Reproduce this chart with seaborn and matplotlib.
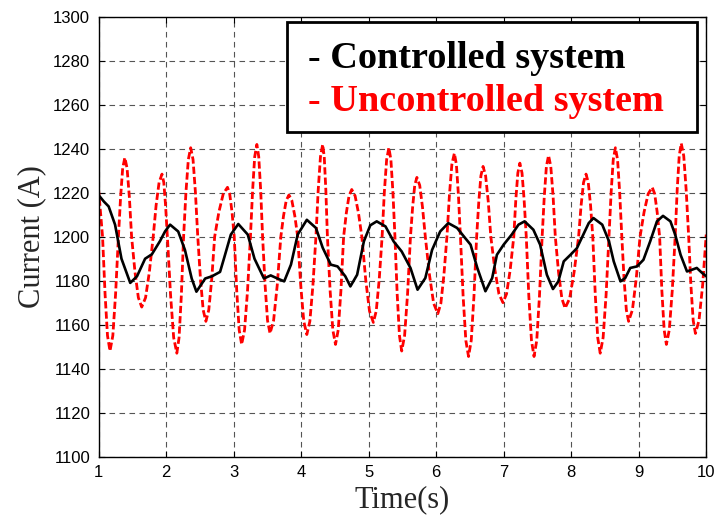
import matplotlib
matplotlib.use("Agg")
import matplotlib.pyplot as plt
from matplotlib.lines import Line2D
from matplotlib.patches import Rectangle
from matplotlib.font_manager import FontProperties
import pandas as pd
import seaborn as sns

# Uncontrolled system: time (s) and current (A)
t_unc = [1.00, 1.06,
         1.097, 1.133, 1.17, 1.212, 1.253, 1.295,
         1.327, 1.358, 1.39, 1.423, 1.457, 1.49,
         1.54, 1.59, 1.64, 1.697, 1.753, 1.81,
         1.853, 1.897, 1.94, 1.967, 1.993, 2.02,
         2.067, 2.113, 2.16, 2.193, 2.227, 2.26,
         2.295, 2.33, 2.365, 2.40, 2.435, 2.47,
         2.51, 2.55, 2.59, 2.633, 2.677, 2.72,
         2.783, 2.847, 2.91, 2.943, 2.977, 3.01,
         3.047, 3.083, 3.12, 3.163, 3.207, 3.25,
         3.282, 3.313, 3.345, 3.373, 3.402, 3.43,
         3.467, 3.503, 3.54, 3.593, 3.647, 3.70,
         3.74, 3.78, 3.82, 3.863, 3.907, 3.95,
         3.995, 4.04, 4.085, 4.13, 4.175, 4.22,
         4.253, 4.287, 4.32, 4.343, 4.367, 4.39,
         4.43, 4.47, 4.51, 4.55, 4.59, 4.63,
         4.67, 4.71, 4.75, 4.80, 4.85, 4.90,
         4.957, 5.013, 5.07, 5.113, 5.157, 5.20,
         5.233, 5.267, 5.30, 5.33, 5.36, 5.39,
         5.423, 5.457, 5.49, 5.533, 5.577, 5.62,
         5.652, 5.683, 5.715, 5.757, 5.798, 5.84,
         5.902, 5.963, 6.025, 6.07, 6.115, 6.16,
         6.197, 6.233, 6.27, 6.30, 6.33, 6.36,
         6.40, 6.44, 6.48, 6.52, 6.56, 6.60,
         6.632, 6.663, 6.695, 6.733, 6.772, 6.81,
         6.87, 6.93, 6.99, 7.043, 7.097, 7.15,
         7.18, 7.21, 7.24, 7.272, 7.303, 7.335,
         7.373, 7.412, 7.45, 7.49, 7.53, 7.57,
         7.602, 7.633, 7.665, 7.698, 7.732, 7.765,
         7.813, 7.862, 7.91, 7.977, 8.043, 8.11,
         8.147, 8.183, 8.22, 8.253, 8.287, 8.32,
         8.357, 8.393, 8.43, 8.473, 8.517, 8.56,
         8.592, 8.623, 8.655, 8.687, 8.718, 8.75,
         8.783, 8.817, 8.85, 8.907, 8.963, 9.02,
         9.08, 9.14, 9.20, 9.237, 9.273, 9.31,
         9.343, 9.377, 9.41, 9.453, 9.497, 9.54,
         9.57, 9.60, 9.63, 9.667, 9.703, 9.74,
         9.773, 9.807, 9.84, 9.893, 9.947, 10.0]
i_unc = [1222, 1200,
         1174, 1155, 1148, 1155, 1174, 1200,
         1218, 1231.2, 1236, 1231.2, 1218, 1200,
         1184, 1172.3, 1168, 1172.3, 1184, 1200,
         1214.3, 1224.7, 1228.5, 1224.7, 1214.3, 1200,
         1173.5, 1154.1, 1147, 1154.1, 1173.5, 1200,
         1220.3, 1235.1, 1240.5, 1235.1, 1220.3, 1200,
         1180.8, 1166.7, 1161.5, 1166.7, 1180.8, 1200,
         1211.3, 1219.5, 1222.5, 1219.5, 1211.3, 1200,
         1175.5, 1157.6, 1151, 1157.6, 1175.5, 1200,
         1221, 1236.4, 1242, 1236.4, 1221, 1200,
         1178, 1161.9, 1156, 1161.9, 1178, 1200,
         1209.5, 1216.5, 1219, 1216.5, 1209.5, 1200,
         1177.8, 1161.5, 1155.5, 1161.5, 1177.8, 1200,
         1221, 1236.4, 1242, 1236.4, 1221, 1200,
         1175.5, 1157.6, 1151, 1157.6, 1175.5, 1200,
         1210.8, 1218.6, 1221.5, 1218.6, 1210.8, 1200,
         1180.5, 1166.2, 1161, 1166.2, 1180.5, 1200,
         1220.3, 1235.1, 1240.5, 1235.1, 1220.3, 1200,
         1174, 1155, 1148, 1155, 1174, 1200,
         1213.5, 1223.4, 1227, 1223.4, 1213.5, 1200,
         1182.5, 1169.7, 1165, 1169.7, 1182.5, 1200,
         1219, 1232.9, 1238, 1232.9, 1219, 1200,
         1172.8, 1152.8, 1145.5, 1152.8, 1172.8, 1200,
         1216, 1227.7, 1232, 1227.7, 1216, 1200,
         1185, 1174, 1170, 1174, 1185, 1200,
         1216.8, 1229, 1233.5, 1229, 1216.8, 1200,
         1172.8, 1152.8, 1145.5, 1152.8, 1172.8, 1200,
         1218.5, 1232, 1237, 1232, 1218.5, 1200,
         1183.8, 1171.9, 1167.5, 1171.9, 1183.8, 1200,
         1214.3, 1224.7, 1228.5, 1224.7, 1214.3, 1200,
         1173.5, 1154.1, 1147, 1154.1, 1173.5, 1200,
         1220.3, 1235.1, 1240.5, 1235.1, 1220.3, 1200,
         1180.8, 1166.7, 1161.5, 1166.7, 1180.8, 1200,
         1211.3, 1219.5, 1222.5, 1219.5, 1211.3, 1200,
         1175.5, 1157.6, 1151, 1157.6, 1175.5, 1200,
         1221.3, 1236.8, 1242.5, 1236.8, 1221.3, 1200,
         1178, 1161.9, 1156, 1161.9, 1178, 1201]

# Controlled system: time (s) and current (A)
t_ctl = [1.00, 1.08, 1.15, 1.245, 1.34, 1.47, 1.57, 1.69, 1.79, 1.91,
         1.985, 2.06, 2.18, 2.28, 2.38, 2.45, 2.58, 2.68, 2.80, 2.86,
         2.96, 3.07, 3.21, 3.31, 3.45, 3.55, 3.65, 3.75, 3.85, 3.95,
         4.085, 4.22, 4.32, 4.44, 4.54, 4.655, 4.73, 4.83, 4.93, 5.025,
         5.12, 5.25, 5.37, 5.49, 5.62, 5.725, 5.84, 5.94, 6.06, 6.18,
         6.31, 6.43, 6.51, 6.61, 6.73, 6.83, 6.90, 7.00, 7.12, 7.22,
         7.31, 7.44, 7.54, 7.64, 7.73, 7.81, 7.89, 7.99, 8.085, 8.18,
         8.26, 8.33, 8.46, 8.56, 8.63, 8.73, 8.80, 8.875, 8.975, 9.07,
         9.17, 9.27, 9.36, 9.47, 9.54, 9.62, 9.715, 9.79, 9.86, 9.94,
         10.0]
i_ctl = [1219, 1216, 1213.8, 1205.5, 1190, 1179, 1182, 1190, 1192, 1198,
         1202.4, 1205.5, 1202.4, 1194, 1181, 1175, 1181, 1182, 1184, 1190.3,
         1201, 1205.8, 1201, 1190, 1181, 1182.4, 1181, 1179.7, 1187.3, 1201,
         1207.7, 1204, 1195, 1187.3, 1186.5, 1182, 1177.4, 1182.7, 1197.9, 1205.2,
         1207, 1204.7, 1197.9, 1193.3, 1185.8, 1175.9, 1181.2, 1194, 1202.4, 1206.2,
         1204, 1199.4, 1196.4, 1185.8, 1175.2, 1181.2, 1191.8, 1196.4, 1201, 1205.5,
         1207, 1203.2, 1196.4, 1182.7, 1176.2, 1179.7, 1188.8, 1191.8, 1194.8, 1201,
         1206.2, 1208.5, 1205.5, 1197.9, 1188.8, 1179.7, 1181.2, 1185.8, 1186.5, 1189.5,
         1197.9, 1207, 1209.5, 1207, 1201, 1191.8, 1184.2, 1185, 1185.8, 1183.5,
         1182]

x_ticks = [1, 2, 3, 4, 5, 6, 7, 8, 9, 10]
y_ticks = [1100, 1120, 1140, 1160, 1180, 1200, 1220, 1240, 1260, 1280, 1300]
labels = ["- Controlled system", "- Uncontrolled system"]

df_unc = pd.DataFrame({"t": t_unc, "i": i_unc})
df_ctl = pd.DataFrame({"t": t_ctl, "i": i_ctl})

sns.set_style("ticks")
plt.rcParams["font.family"] = ["Liberation Sans", "DejaVu Sans"]

fig = plt.figure(figsize=(7.18, 5.21), dpi=100)
ax = fig.add_axes([0.1372, 0.1238, 0.8464, 0.8436])

sns.lineplot(data=df_unc, x="t", y="i", ax=ax, color="#ff0000", linewidth=2.0,
             linestyle=(0, (2.6, 1.1)), estimator=None, errorbar=None, sort=False)
sns.lineplot(data=df_ctl, x="t", y="i", ax=ax, color="#000000", linewidth=1.9,
             estimator=None, errorbar=None, sort=False)

ax.set_xlim(1, 10)
ax.set_ylim(1100, 1300)
ax.set_xticks(x_ticks)
ax.set_yticks(y_ticks)
ax.set_xticklabels([str(v) for v in x_ticks])
ax.set_yticklabels([str(v) for v in y_ticks])

ax.set_axisbelow(True)
ax.grid(True, color="#555555", linestyle=(0, (5, 4)), linewidth=0.8)
for s in ax.spines.values():
    s.set_visible(True)
    s.set_color("black")
    s.set_linewidth(1.0)
ax.tick_params(direction="in", length=4, width=0.8, top=True, right=True,
               labelsize=12, pad=6, colors="black")

serif = "Liberation Serif"
ax.set_xlabel("Time(s)", family=serif, fontsize=22, labelpad=4)
ax.set_ylabel("Current (A)", family=serif, fontsize=22, labelpad=5)

# Framed key box in the upper right corner
ax.add_patch(Rectangle((0.310, 0.738), 0.675, 0.2506, transform=ax.transAxes,
                       facecolor="white", edgecolor="black", linewidth=2.0,
                       zorder=4.9))
handles = [Line2D([], [], linestyle="none"), Line2D([], [], linestyle="none")]
leg = ax.legend(handles=handles, labels=labels, loc="upper left",
                bbox_to_anchor=(0.310, 0.9818), handlelength=0.12,
                handletextpad=0.0, borderpad=0.42, labelspacing=0.21,
                borderaxespad=0.0, frameon=False,
                prop=FontProperties(family=serif, weight="bold", size=27.5))
leg.set_zorder(5)
for txt, col in zip(leg.get_texts(), ["#000000", "#ff0000"]):
    txt.set_color(col)

fig.savefig("out.png", dpi=100)
